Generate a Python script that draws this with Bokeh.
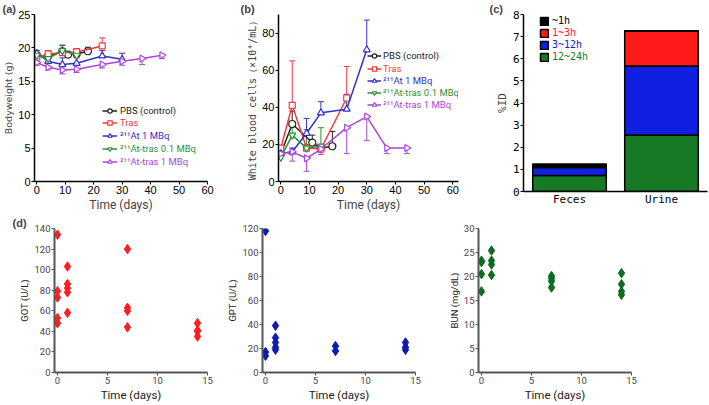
from bokeh.plotting import figure
from bokeh.layouts import column, row
from bokeh.models import (ColumnDataSource, Whisker, TeeHead, Legend, LegendItem,
                          Title, FixedTicker, Range1d, FactorRange)
from bokeh.embed import file_html
from bokeh.resources import INLINE
from math import pi

# ---------------- data ----------------
series_names = ["PBS (control)", "Tras", "²¹¹At 1 MBq", "²¹¹At-tras 0.1 MBq", "²¹¹At-tras 1 MBq"]
series_colors = ["#222222", "#ee3b3b", "#3030cc", "#2f8f3a", "#a945dd"]

# (a) body weight (g)
bw_pbs_days = [0, 4, 9, 11, 14, 18]
bw_pbs = [18.9, 18.7, 19.5, 19.0, 19.1, 19.5]
bw_pbs_err = [0.4, 0.9, 0.9, 0.4, 0.6, 0.6]
bw_tras_days = [0, 4, 9, 14, 23]
bw_tras = [18.6, 19.1, 19.3, 19.4, 20.3]
bw_tras_err = [0.3, 0.5, 0.6, 0.5, 1.2]
bw_at_days = [0, 4, 9, 14, 23, 30]
bw_at = [19.2, 18.0, 17.5, 17.7, 18.8, 18.3]
bw_at_err = [0.4, 0.5, 1.0, 0.8, 0.8, 0.9]
bw_lo_days = [0, 4, 9, 14]
bw_lo = [18.9, 18.4, 19.6, 18.9]
bw_lo_err = [0.3, 0.6, 0.8, 0.5]
bw_hi_days = [0, 4, 9, 14, 23, 30, 37, 44]
bw_hi = [17.8, 17.1, 16.7, 16.8, 17.5, 18.0, 18.4, 18.9]
bw_hi_err = [0.4, 0.4, 0.6, 0.5, 0.5, 0.6, 0.9, 0.5]

# (b) white blood cells (x10^4/mL)
wbc_pbs_days = [0, 4, 11, 14, 18]
wbc_pbs = [15, 31, 21, 18, 19]
wbc_pbs_err = [1, 7, 4, 1, 8]
wbc_tras_days = [0, 4, 9, 14, 23]
wbc_tras = [18, 41, 18, 17.5, 45]
wbc_tras_err = [1, 24, 2, 2, 17]
wbc_at_days = [0, 4, 9, 14, 23, 30]
wbc_at = [15, 16, 26, 37, 39, 71]
wbc_at_err = [1, 2, 8, 6, 8, 16]
wbc_lo_days = [0, 4, 9, 14]
wbc_lo = [13, 25, 18, 19]
wbc_lo_err = [1, 5, 10, 10]
wbc_hi_days = [0, 4, 9, 14, 23, 30, 37, 44]
wbc_hi = [15, 16, 12.5, 17.5, 29, 35, 18, 18]
wbc_hi_err = [1, 5, 7, 3, 14, 13, 3, 3]

# (c) excretion %ID
excr_categories = ["Feces", "Urine"]
excr_periods = ["12~24h", "3~12h", "1~3h", "~1h"]      # bottom -> top
excr_12_24h = [0.72, 2.55]
excr_3_12h = [0.37, 3.12]
excr_1_3h = [0.01, 1.58]
excr_0_1h = [0.14, 0.02]
excr_colors = ["#167a24", "#1020e0", "#ff1a1a", "#000000"]

# (d) blood chemistry
got_days = [0, 0, 0, 0, 0, 1, 1, 1, 1, 1, 7, 7, 7, 7, 14, 14, 14, 14]
got_vals = [134, 79, 73, 53, 48, 103, 86, 82, 78, 58, 120, 63, 60, 44, 48, 41, 40, 35]
gpt_days = [0, 0, 0, 1, 1, 1, 1, 1, 7, 7, 14, 14, 14]
gpt_vals = [118, 17, 14, 39, 29, 25, 21, 19, 22, 18, 25, 21, 19]
bun_days = [0, 0, 0, 0, 1, 1, 1, 1, 7, 7, 7, 7, 14, 14, 14, 14]
bun_vals = [23.3, 23.0, 20.5, 16.9, 25.4, 23.3, 22.5, 20.3, 20.1, 19.6, 19.0, 17.7, 20.7, 18.4, 16.9, 16.2]

time_ticks = [0, 10, 20, 30, 40, 50, 60]
bw_ticks = [0, 5, 10, 15, 20, 25]
wbc_ticks = [0, 20, 40, 60, 80]
excr_ticks = [0, 1, 2, 3, 4, 5, 6, 7, 8]
lab_time_ticks = [0, 5, 10, 15]
got_ticks = [0, 20, 40, 60, 80, 100, 120, 140]
gpt_ticks = [0, 20, 40, 60, 80, 100, 120]
bun_ticks = [0, 5, 10, 15, 20, 25, 30]

# ---------------- helpers ----------------
SANS = "Roboto"
MONO = "DejaVu Sans Mono"


def base_style(p, tick_font, tick_size, tick_color="black", axis_color="black", axis_width=1.5):
    p.outline_line_color = None
    p.xgrid.grid_line_color = None
    p.ygrid.grid_line_color = None
    p.background_fill_color = "white"
    p.border_fill_color = "white"
    for ax in p.axis:
        ax.axis_line_color = axis_color
        ax.axis_line_width = axis_width
        ax.major_tick_line_color = axis_color
        ax.major_tick_line_width = 1
        ax.major_tick_out = 3
        ax.major_tick_in = 0
        ax.minor_tick_line_color = None
        ax.major_label_text_font = tick_font
        ax.major_label_text_font_size = tick_size
        ax.major_label_text_color = tick_color
        ax.major_label_standoff = 1
        ax.axis_label_standoff = 1
        ax.axis_label_text_font_style = "normal"


def add_series(p, days, vals, errs, color, marker, size, down=False, angle=0.0):
    if down:
        upper = list(vals)
        lower = [v - e for v, e in zip(vals, errs)]
    else:
        upper = [v + e for v, e in zip(vals, errs)]
        lower = list(vals)
    src = ColumnDataSource(dict(x=days, y=vals, upper=upper, lower=lower))
    head = TeeHead(size=6, line_color=color, line_width=1)
    w = Whisker(source=src, base="x", upper="upper", lower="lower", line_color=color,
                line_width=1, upper_head=None if down else head,
                lower_head=head if down else None)
    p.add_layout(w)
    ln = p.line("x", "y", source=src, line_color=color, line_width=1.5)
    sc = p.scatter("x", "y", source=src, marker=marker, size=size, fill_color="white",
                   line_color=color, line_width=1.2, angle=angle)
    return [ln, sc]


def add_legend(p, name, renderers, color, x, y, font, size, gw=15, gh=11, standoff=3):
    leg = Legend(items=[LegendItem(label=name, renderers=renderers)], location=(x, y))
    leg.label_text_color = color
    leg.label_text_font = font
    leg.label_text_font_size = size
    leg.glyph_width = gw
    leg.glyph_height = gh
    leg.label_height = gh
    leg.label_standoff = standoff
    leg.padding = 0
    leg.spacing = 0
    leg.margin = 0
    leg.border_line_color = None
    leg.background_fill_alpha = 0
    p.add_layout(leg)


def panel_label(p, text, offset):
    p.add_layout(Title(text=text, align="left", offset=offset, standoff=0,
                       text_font="Liberation Sans", text_font_style="bold",
                       text_font_size="11px"), "above")


markers = ["circle", "square", "triangle", "inverted_triangle", "triangle"]
msizes = [7, 6, 7, 7, 7]
angles = [0, 0, 0, 0, -pi / 2]
H1, H2 = 214, 190

# ---------------- (a) ----------------
pa = figure(width=238, height=H1, x_range=Range1d(-0.8, 60), y_range=Range1d(0, 25),
            output_backend="svg", toolbar_location=None,
            min_border_left=32, min_border_right=31, min_border_top=7, min_border_bottom=31)
base_style(pa, "Liberation Sans", "11px")
pa.xaxis.ticker = FixedTicker(ticks=time_ticks)
pa.yaxis.ticker = FixedTicker(ticks=bw_ticks)
pa.xaxis.axis_label = "Time (days)"
pa.xaxis.axis_label_text_font = SANS
pa.xaxis.axis_label_text_font_size = "12px"
pa.yaxis.axis_label = "Bodyweight (g)"
pa.yaxis.axis_label_text_font = "DejaVu Sans"
pa.yaxis.axis_label_text_font_size = "9.5px"

bw_sets = [(bw_pbs_days, bw_pbs, bw_pbs_err), (bw_tras_days, bw_tras, bw_tras_err),
           (bw_at_days, bw_at, bw_at_err), (bw_lo_days, bw_lo, bw_lo_err),
           (bw_hi_days, bw_hi, bw_hi_err)]
leg_y_a = [65, 53, 40, 27, 14]
for i, (d, v, e) in enumerate(bw_sets):
    rs = add_series(pa, d, v, e, series_colors[i], markers[i], msizes[i], down=(i == 4), angle=angles[i])
    add_legend(pa, series_names[i], rs, series_colors[i], 68, leg_y_a[i], SANS, "9.5px")
panel_label(pa, "(a)", -32)

# ---------------- (b) ----------------
pb = figure(width=232, height=H1, x_range=Range1d(-0.8, 62), y_range=Range1d(0, 90),
            output_backend="svg", toolbar_location=None,
            min_border_left=40, min_border_right=12, min_border_top=7, min_border_bottom=31)
base_style(pb, "Liberation Sans", "11px")
pb.xaxis.ticker = FixedTicker(ticks=time_ticks)
pb.yaxis.ticker = FixedTicker(ticks=wbc_ticks)
pb.xaxis.axis_label = "Time (days)"
pb.xaxis.axis_label_text_font = SANS
pb.xaxis.axis_label_text_font_size = "12px"
pb.yaxis.axis_label = "White blood cells（×10⁴/mL）"
pb.yaxis.axis_label_text_font = MONO
pb.yaxis.axis_label_text_font_size = "10px"

wbc_sets = [(wbc_pbs_days, wbc_pbs, wbc_pbs_err), (wbc_tras_days, wbc_tras, wbc_tras_err),
            (wbc_at_days, wbc_at, wbc_at_err), (wbc_lo_days, wbc_lo, wbc_lo_err),
            (wbc_hi_days, wbc_hi, wbc_hi_err)]
leg_y_b = [120, 107, 95, 83, 71]
for i, (d, v, e) in enumerate(wbc_sets):
    rs = add_series(pb, d, v, e, series_colors[i], markers[i], msizes[i], down=(i == 4), angle=angles[i])
    add_legend(pb, series_names[i], rs, series_colors[i], 89, leg_y_b[i], SANS, "9.5px", gw=14, standoff=2)
panel_label(pb, "(b)", -38)

# ---------------- (c) ----------------
excr_src = ColumnDataSource(dict(cat=excr_categories, p1224=excr_12_24h, p312=excr_3_12h,
                                 p13=excr_1_3h, p01=excr_0_1h))
pc = figure(width=238, height=H1 + 10, x_range=FactorRange(*excr_categories, range_padding=0),
            y_range=Range1d(0, 8), output_backend="svg", toolbar_location=None,
            min_border_left=53, min_border_right=1, min_border_top=7, min_border_bottom=23,
            margin=(0, 0, -10, 0))
base_style(pc, MONO, "11px")
pc.yaxis.ticker = FixedTicker(ticks=excr_ticks)
pc.xaxis.major_tick_line_color = None
pc.xaxis.major_tick_out = 0
pc.xaxis.group_text_font_size = "1px"
pc.xaxis.subgroup_text_font_size = "1px"
pc.xaxis.separator_line_color = None
pc.yaxis.axis_label = "%ID"
pc.yaxis.axis_label_text_font = MONO
pc.yaxis.axis_label_text_font_size = "11px"
bars = pc.vbar_stack(["p1224", "p312", "p13", "p01"], x="cat", width=0.8, source=excr_src,
                     fill_color=excr_colors, line_color="black", line_width=1.5)
leg_y_c = [129, 141, 153, 165]
for i in range(4):
    add_legend(pc, excr_periods[i], [bars[i]], excr_colors[i], 16, leg_y_c[i], MONO, "10px", gw=10, gh=10)
panel_label(pc, "(c)", -34)

# ---------------- (d) ----------------
def lab_fig(width, left, right, yend, yticks, ylabel, days, vals, color):
    p = figure(width=width, height=H2, x_range=Range1d(-0.3, 15), y_range=Range1d(0, yend),
               output_backend="svg", toolbar_location=None,
               min_border_left=left, min_border_right=right, min_border_top=12, min_border_bottom=31)
    base_style(p, SANS, "9.5px", tick_color="#444444", axis_color="#555555", axis_width=2)
    p.xaxis.ticker = FixedTicker(ticks=lab_time_ticks)
    p.yaxis.ticker = FixedTicker(ticks=yticks)
    p.xaxis.axis_label = "Time (days)"
    p.xaxis.axis_label_text_font = SANS
    p.xaxis.axis_label_text_font_size = "11.5px"
    p.xaxis.axis_label_text_color = "#222222"
    p.yaxis.axis_label = ylabel
    p.yaxis.axis_label_text_font = SANS
    p.yaxis.axis_label_text_font_size = "9.5px"
    p.yaxis.axis_label_text_color = "#222222"
    src = ColumnDataSource(dict(x=days, y=vals))
    p.scatter("x", "y", source=src, marker="diamond", size=9.5, fill_color=color, line_color=color)
    return p

pd1 = lab_fig(224, 54, 17, 140, got_ticks, "GOT (U/L)", got_days, got_vals, "#ff1f1f")
panel_label(pd1, "(d)", -42)
pd2 = lab_fig(221, 38, 30, 120, gpt_ticks, "GPT (U/L)", gpt_days, gpt_vals, "#0c1cb4")
pd3 = lab_fig(263, 32, 77, 30, bun_ticks, "BUN (mg/dL)", bun_days, bun_vals, "#0e6b20")

layout = column(row(pa, pb, pc, spacing=0), row(pd1, pd2, pd3, spacing=0), spacing=0)
open("out.html", "w").write(file_html(layout, INLINE))
